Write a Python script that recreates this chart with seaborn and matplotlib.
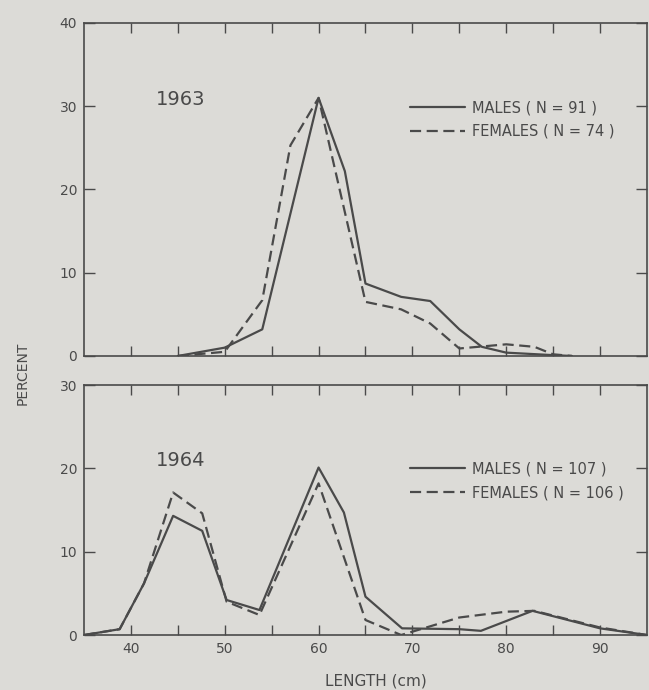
import numpy as np
import pandas as pd
import matplotlib
matplotlib.use('Agg')
import matplotlib.pyplot as plt
import seaborn as sns

# 1963 length frequencies (percent)
len_m63 = [45, 50, 54, 60, 62.8, 65, 68.8, 71.9, 75, 77.4, 80, 85, 87]
pct_m63 = [0, 1.0, 3.2, 31, 22.2, 8.7, 7.1, 6.6, 3.2, 1.1, 0.4, 0.1, 0]
len_f63 = [45, 50, 54, 57, 60, 65, 68.8, 71.9, 75, 80, 83, 85, 87]
pct_f63 = [0, 0.5, 6.7, 25.3, 31, 6.5, 5.6, 3.9, 0.9, 1.4, 1.1, 0.2, 0]

# 1964 length frequencies (percent)
len_m64 = [35, 38.8, 41.4, 44.5, 47.6, 50.2, 53.7, 60, 62.7, 65, 68.9, 75, 77.3, 82.8, 90, 95]
pct_m64 = [0, 0.7, 6.2, 14.3, 12.5, 4.2, 3.0, 20.1, 14.7, 4.6, 0.8, 0.7, 0.5, 2.9, 0.8, 0]
len_f64 = [35, 38.8, 41.4, 44.5, 47.6, 50.2, 53.7, 60, 65, 68.8, 70, 75, 80, 83, 90, 95]
pct_f64 = [0, 0.7, 6.2, 17.1, 14.6, 4.0, 2.4, 18.2, 1.8, 0, 0.4, 2.1, 2.8, 2.9, 0.9, 0]

years = ['1963', '1964']
n_males = [91, 107]
n_females = [74, 106]
y_max = [40, 30]

bg = '#dcdbd7'
ink = '#4a4a4a'

sns.set_theme(style='ticks')
plt.rcParams['font.family'] = ['DejaVu Sans']
plt.rcParams['text.color'] = ink
plt.rcParams['axes.edgecolor'] = ink
plt.rcParams['xtick.color'] = ink
plt.rcParams['ytick.color'] = ink
plt.rcParams['axes.labelcolor'] = ink

fig = plt.figure(figsize=(6.49, 6.90), dpi=100, facecolor=bg)
ax1 = fig.add_axes([0.1294, 0.4841, 0.8675, 0.4826])
ax2 = fig.add_axes([0.1294, 0.0797, 0.8675, 0.3623])

data = [
    (len_m63, pct_m63, len_f63, pct_f63),
    (len_m64, pct_m64, len_f64, pct_f64),
]

for i, ax in enumerate([ax1, ax2]):
    lm, pm, lf, pf = data[i]
    lab_m = 'MALES ( N = %d )' % n_males[i]
    lab_f = 'FEMALES ( N = %d )' % n_females[i]
    df = pd.concat([
        pd.DataFrame({'length': lm, 'pct': pm, 'sex': lab_m}),
        pd.DataFrame({'length': lf, 'pct': pf, 'sex': lab_f}),
    ])
    sns.lineplot(data=df, x='length', y='pct', style='sex',
                 dashes={lab_m: '', lab_f: (5, 2.5)},
                 color=ink, lw=1.6, sort=False, ax=ax)
    ax.set_facecolor(bg)
    ax.set_xlim(35, 95)
    ax.set_ylim(0, y_max[i])
    ax.set_xticks(np.arange(40, 95, 10))
    ax.set_xticks(np.arange(40, 95, 5), minor=True)
    ax.set_yticks(np.arange(0, y_max[i] + 1, 10))
    ax.tick_params(which='both', direction='in', top=True, right=True,
                   labelsize=10, width=1)
    ax.tick_params(which='major', length=7, pad=5)
    ax.tick_params(which='minor', length=7)
    ax.tick_params(axis='y', length=8)
    ax.set_xlabel('')
    ax.set_ylabel('')
    for s in ax.spines.values():
        s.set_linewidth(1.2)
    h, l = ax.get_legend_handles_labels()
    ax.legend(h, l, loc='center left', frameon=False, fontsize=10.5,
              handlelength=3.8, handletextpad=0.5, labelspacing=0.6,
              bbox_to_anchor=(0.555, (0.71 if i == 0 else 0.617)))
    ax.text(42.7, 30.8 if i == 0 else 21.0, years[i], fontsize=14,
            va='center', ha='left')

ax1.tick_params(axis='x', labelbottom=False)

fig.text(0.035, 0.459, 'PERCENT', rotation=90, ha='center', va='center',
         fontsize=10)
fig.text(0.579, 0.013, 'LENGTH (cm)', ha='center', va='center', fontsize=11)

fig.savefig('out.png', dpi=100, facecolor=bg)
